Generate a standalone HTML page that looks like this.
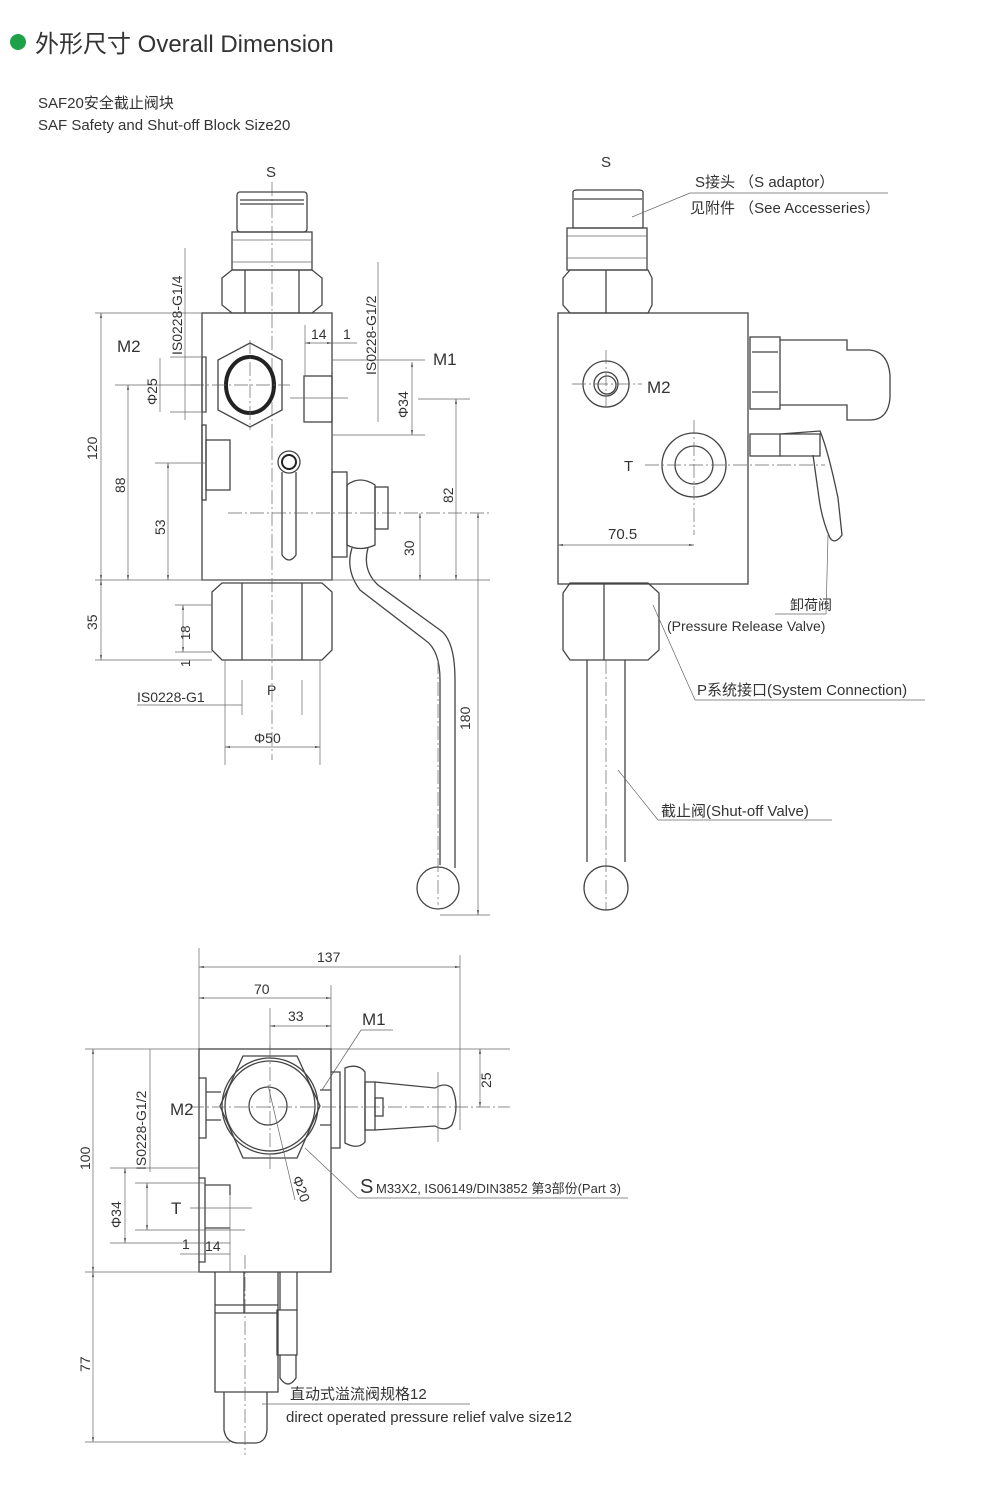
<!DOCTYPE html>
<html><head><meta charset="utf-8"><style>
body{margin:0;background:#fff;}
svg{display:block}
text{font-family:"Liberation Sans","Noto Sans CJK SC",sans-serif;fill:#333}
.l{stroke:#444;stroke-width:1.3;fill:none}
.t{stroke:#666;stroke-width:0.7;fill:none}
.c{stroke:#666;stroke-width:0.7;fill:none;stroke-dasharray:14 3 2 3}
</style></head><body>
<svg width="1000" height="1500" viewBox="0 0 1000 1500" xmlns="http://www.w3.org/2000/svg">
<defs><marker id="a" viewBox="0 0 10 10" refX="10" refY="5" markerWidth="7" markerHeight="7" orient="auto-start-reverse"><path d="M0,3 L10,5 L0,7z" fill="#444"/></marker></defs>
<circle cx="18" cy="42" r="8" fill="#1fa14a"/>
<text x="35" y="52" font-size="24" fill="#333">外形尺寸 Overall Dimension</text>
<text x="38" y="108" font-size="15">SAF20安全截止阀块</text>
<text x="38" y="130" font-size="15">SAF Safety and Shut-off Block Size20</text>

<!-- FRONT VIEW -->
<text x="266" y="177" font-size="15">S</text>
<line class="c" x1="272" y1="182" x2="272" y2="760"/>
<rect class="l" x="237" y="192" width="70" height="40" rx="3"/>
<line class="l" x1="240" y1="200" x2="304" y2="200"/><line class="l" x1="240" y1="204" x2="304" y2="204"/>
<rect class="l" x="232" y="232" width="80" height="38"/>
<line class="t" x1="232" y1="240" x2="312" y2="240"/><line class="t" x1="232" y1="262" x2="312" y2="262"/>
<path class="l" d="M222,278 L232,270 L312,270 L322,278 L322,305 L312,313 L232,313 L222,305Z M245,270 L245,313 M299,270 L299,313"/>
<rect class="l" x="202" y="313" width="130" height="267"/>
<path class="l" d="M250,343 L282,360 L282,410 L250,427 L218,410 L218,360Z"/>
<ellipse cx="250" cy="385" rx="24" ry="28" fill="none" stroke="#222" stroke-width="4"/>
<line class="c" x1="190" y1="385" x2="290" y2="385"/>
<line class="c" x1="250" y1="340" x2="250" y2="430"/>
<rect class="l" x="202" y="357" width="4" height="55"/>
<rect class="l" x="304" y="376" width="28" height="46"/>
<line class="t" x1="290" y1="398" x2="348" y2="398"/>
<rect class="l" x="202" y="425" width="4" height="75"/>
<rect class="l" x="206" y="440" width="24" height="50"/>
<circle class="l" cx="289" cy="462" r="11"/><circle cx="289" cy="462" r="7" fill="none" stroke="#222" stroke-width="2"/>
<path class="l" d="M282,472 L282,555 Q289,565 296,555 L296,472"/>
<line class="c" x1="228" y1="513" x2="490" y2="513"/>
<rect class="l" x="332" y="472" width="15" height="85"/>
<path class="l" d="M347,485 Q360,475 375,485 L375,545 Q360,552 347,545Z"/>
<rect class="l" x="375" y="487" width="13" height="42"/>
<path class="l" d="M352,548 Q345,570 360,590 L425,640 Q440,650 440,680 L440,865 M368,548 Q362,570 378,585 L440,630 Q455,640 455,680 L455,868"/>
<circle class="l" cx="438" cy="888" r="21"/>
<line class="c" x1="438" y1="660" x2="438" y2="905"/>
<path class="l" d="M212,592 L222,583 L322,583 L332,592 L332,650 L322,660 L222,660 L212,650Z M242,583 L242,660 M302,583 L302,660"/>
<line class="t" x1="225" y1="660" x2="225" y2="765"/><line class="t" x1="320" y1="660" x2="320" y2="765"/>
<line class="t" x1="242" y1="680" x2="242" y2="715"/><line class="t" x1="302" y1="680" x2="302" y2="715"/>
<line class="t" x1="225" y1="747" x2="320" y2="747" marker-start="url(#a)" marker-end="url(#a)"/>
<text x="254" y="743" font-size="14">Φ50</text>
<text x="137" y="702" font-size="14">IS0228-G1</text><line class="t" x1="137" y1="705" x2="242" y2="705"/>
<text x="267" y="695" font-size="14">P</text>
<!-- left dims -->
<line class="t" x1="95" y1="313" x2="202" y2="313"/><line class="t" x1="95" y1="580" x2="490" y2="580"/>
<line class="t" x1="101" y1="313" x2="101" y2="580" marker-start="url(#a)" marker-end="url(#a)"/>
<line class="t" x1="101" y1="580" x2="101" y2="660" marker-start="url(#a)" marker-end="url(#a)"/>
<line class="t" x1="95" y1="660" x2="212" y2="660"/>
<text transform="translate(97,460) rotate(-90)" font-size="14">120</text>
<text transform="translate(97,630) rotate(-90)" font-size="14">35</text>
<line class="t" x1="115" y1="385" x2="200" y2="385"/>
<line class="t" x1="128" y1="385" x2="128" y2="580" marker-start="url(#a)" marker-end="url(#a)"/>
<text transform="translate(125,493) rotate(-90)" font-size="14">88</text>
<line class="t" x1="155" y1="463" x2="205" y2="463"/>
<line class="t" x1="168" y1="463" x2="168" y2="580" marker-start="url(#a)" marker-end="url(#a)"/>
<text transform="translate(165,535) rotate(-90)" font-size="14">53</text>
<line class="t" x1="170" y1="357" x2="206" y2="357"/><line class="t" x1="170" y1="412" x2="206" y2="412"/>
<line class="t" x1="160" y1="358" x2="160" y2="412"/>
<text transform="translate(157,405) rotate(-90)" font-size="14">Φ25</text>
<text x="117" y="352" font-size="17">M2</text>
<line class="t" x1="185" y1="248" x2="185" y2="420"/>
<text transform="translate(182,355) rotate(-90)" font-size="14">IS0228-G1/4</text>
<line class="t" x1="175" y1="605" x2="212" y2="605"/><line class="t" x1="175" y1="652" x2="212" y2="652"/>
<line class="t" x1="183" y1="605" x2="183" y2="652" marker-start="url(#a)" marker-end="url(#a)"/>
<text transform="translate(190,640) rotate(-90)" font-size="13">18</text>
<text transform="translate(190,667) rotate(-90)" font-size="13">1</text>
<!-- right dims -->
<line class="t" x1="305" y1="325" x2="305" y2="376"/>
<line class="t" x1="305" y1="343" x2="332" y2="343" marker-start="url(#a)" marker-end="url(#a)"/>
<line class="t" x1="332" y1="343" x2="357" y2="343"/>
<text x="311" y="339" font-size="14">14</text><text x="343" y="339" font-size="14">1</text>
<line class="t" x1="332" y1="360" x2="425" y2="360"/>
<text x="433" y="365" font-size="17">M1</text>
<line class="t" x1="378" y1="262" x2="378" y2="422"/>
<text transform="translate(376,375) rotate(-90)" font-size="14">IS0228-G1/2</text>
<line class="t" x1="332" y1="435" x2="425" y2="435"/>
<line class="t" x1="412" y1="362" x2="412" y2="435" marker-start="url(#a)" marker-end="url(#a)"/>
<text transform="translate(408,418) rotate(-90)" font-size="14">Φ34</text>
<line class="t" x1="418" y1="399" x2="470" y2="399"/>
<line class="t" x1="456" y1="399" x2="456" y2="580" marker-start="url(#a)" marker-end="url(#a)"/>
<text transform="translate(453,503) rotate(-90)" font-size="14">82</text>
<line class="t" x1="420" y1="513" x2="420" y2="580" marker-start="url(#a)" marker-end="url(#a)"/>
<text transform="translate(414,556) rotate(-90)" font-size="14">30</text>
<line class="t" x1="478" y1="513" x2="478" y2="915" marker-start="url(#a)" marker-end="url(#a)"/>
<line class="t" x1="440" y1="915" x2="490" y2="915"/>
<text transform="translate(470,730) rotate(-90)" font-size="14">180</text>

<!-- SIDE VIEW -->
<text x="601" y="167" font-size="15">S</text>
<path class="l" d="M573,192 Q573,190 578,190 L638,190 Q643,190 643,192 L643,228 L573,228Z"/>
<line class="l" x1="574" y1="199" x2="642" y2="199"/>
<rect class="l" x="567" y="228" width="80" height="42"/>
<line class="t" x1="567" y1="236" x2="647" y2="236"/><line class="t" x1="567" y1="258" x2="647" y2="258"/>
<path class="l" d="M563,278 L570,270 L648,270 L652,278 L652,305 L648,313 L570,313 L563,305Z M606,270 L606,313"/>
<rect class="l" x="558" y="313" width="190" height="271"/>
<circle class="l" cx="606" cy="384" r="23"/><circle class="l" cx="606" cy="384" r="12"/><circle class="l" cx="607" cy="385" r="9"/>
<line class="c" x1="572" y1="384" x2="642" y2="384"/><line class="c" x1="606" y1="350" x2="606" y2="410"/>
<text x="647" y="393" font-size="17">M2</text>
<circle class="l" cx="694" cy="465" r="32"/><circle class="l" cx="694" cy="465" r="19"/>
<line class="c" x1="645" y1="465" x2="825" y2="465"/><line class="c" x1="694" y1="420" x2="694" y2="535"/>
<text x="624" y="471" font-size="15">T</text>
<line class="t" x1="558" y1="545" x2="694" y2="545" marker-start="url(#a)" marker-end="url(#a)"/>
<text x="608" y="539" font-size="15">70.5</text>
<rect class="l" x="750" y="337" width="30" height="72"/>
<path class="l" d="M752,352 L778,352 M752,392 L778,392 M780,340 L847,340 L847,350 L870,350 Q888,352 890,375 L890,398 Q888,420 870,420 L847,420 L847,405 L780,405"/>
<rect class="l" x="750" y="434" width="30" height="22" fill="none"/>
<path class="l" d="M780,434 L820,434 L820,456 L780,456 M780,434 L820,431 Q828,450 838,498 L842,535 Q835,545 830,538 Q822,520 819,498 L813,455"/>
<path class="l" d="M563,593 L570,583 L648,583 L659,593 L659,650 L648,660 L570,660 L563,650Z M604,583 L604,660"/>
<path class="l" d="M587,660 L587,862 M625,660 L625,862"/>
<line class="c" x1="606" y1="660" x2="606" y2="910"/>
<circle class="l" cx="606" cy="888" r="22"/>
<!-- labels right -->
<text x="695" y="187" font-size="15">S接头 （S adaptor）</text>
<line class="t" x1="690" y1="193" x2="888" y2="193"/>
<line class="t" x1="690" y1="193" x2="632" y2="217"/>
<text x="690" y="213" font-size="15">见附件 （See Accesseries）</text>
<text x="790" y="610" font-size="14">卸荷阀</text>
<line class="t" x1="775" y1="614" x2="826" y2="614"/>
<line class="t" x1="826" y1="614" x2="828" y2="535"/>
<text x="667" y="631" font-size="14">(Pressure Release Valve)</text>
<text x="697" y="695" font-size="15">P系统接口(System Connection)</text>
<line class="t" x1="695" y1="700" x2="925" y2="700"/><line class="t" x1="695" y1="700" x2="653" y2="605"/>
<text x="661" y="816" font-size="15">截止阀(Shut-off Valve)</text>
<line class="t" x1="658" y1="820" x2="832" y2="820"/><line class="t" x1="658" y1="820" x2="618" y2="770"/>

<!-- BOTTOM VIEW -->
<line class="t" x1="199" y1="948" x2="199" y2="1050"/><line class="t" x1="460" y1="955" x2="460" y2="1130"/>
<line class="t" x1="199" y1="967" x2="460" y2="967" marker-start="url(#a)" marker-end="url(#a)"/>
<text x="317" y="962" font-size="14">137</text>
<line class="t" x1="331" y1="985" x2="331" y2="1050"/>
<line class="t" x1="199" y1="998" x2="331" y2="998" marker-start="url(#a)" marker-end="url(#a)"/>
<text x="254" y="994" font-size="14">70</text>
<line class="t" x1="270" y1="1008" x2="270" y2="1050"/>
<line class="t" x1="270" y1="1026" x2="331" y2="1026" marker-start="url(#a)" marker-end="url(#a)"/>
<text x="288" y="1021" font-size="14">33</text>
<text x="362" y="1025" font-size="17">M1</text>
<line class="t" x1="361" y1="1030" x2="393" y2="1030"/><line class="t" x1="361" y1="1030" x2="322" y2="1090"/>
<line class="t" x1="85" y1="1049" x2="510" y2="1049"/>
<rect class="l" x="199" y="1049" width="132" height="223"/>
<path class="l" d="M243,1056 L297,1056 L320,1106 L297,1158 L243,1158 L220,1106Z"/>
<circle class="l" cx="270" cy="1106" r="48"/><circle class="l" cx="270" cy="1106" r="45"/>
<circle class="l" cx="268" cy="1106" r="19"/>
<line class="c" x1="190" y1="1107" x2="510" y2="1107"/><line class="c" x1="270" y1="1045" x2="270" y2="1170"/>
<line class="t" x1="268" y1="1085" x2="295" y2="1200"/>
<text transform="translate(292,1178) rotate(70)" font-size="14">Φ20</text>
<path class="l" d="M199,1078 L206,1078 L206,1138 L199,1138 M206,1092 L221,1092 M206,1120 L221,1120"/>
<path class="l" d="M331,1072 L340,1072 L340,1148 L331,1148 M320,1090 L331,1090 M320,1125 L331,1125"/>
<path class="l" d="M345,1068 Q358,1063 365,1072 L365,1142 Q358,1150 345,1143Z"/>
<rect class="l" x="365" y="1082" width="10" height="48"/><rect class="l" x="375" y="1098" width="8" height="18"/>
<path class="l" d="M375,1082 L435,1088 Q445,1082 452,1088 Q460,1106 452,1125 Q445,1132 435,1126 L375,1130"/>
<line class="t" x1="438" y1="1072" x2="438" y2="1142"/>
<line class="t" x1="480" y1="1049" x2="480" y2="1107" marker-start="url(#a)" marker-end="url(#a)"/>
<text transform="translate(491,1088) rotate(-90)" font-size="14">25</text>
<text x="170" y="1115" font-size="17">M2</text>
<line class="t" x1="150" y1="1049" x2="150" y2="1172"/>
<text transform="translate(146,1170) rotate(-90)" font-size="14">IS0228-G1/2</text>
<path class="l" d="M199,1178 L205,1178 L205,1262 L199,1262 M205,1185 L230,1185 L230,1195 M205,1228 L230,1228"/>
<line class="t" x1="110" y1="1168" x2="199" y2="1168"/><line class="t" x1="110" y1="1243" x2="230" y2="1243"/>
<line class="t" x1="125" y1="1168" x2="125" y2="1243" marker-start="url(#a)" marker-end="url(#a)"/>
<text transform="translate(121,1228) rotate(-90)" font-size="14">Φ34</text>
<line class="t" x1="135" y1="1183" x2="205" y2="1183"/><line class="t" x1="135" y1="1230" x2="245" y2="1230"/>
<line class="t" x1="147" y1="1183" x2="147" y2="1230" marker-start="url(#a)" marker-end="url(#a)"/>
<text x="171" y="1214" font-size="17">T</text>
<line class="t" x1="190" y1="1208" x2="252" y2="1208"/>
<line class="t" x1="180" y1="1254" x2="230" y2="1254"/>
<text x="182" y="1249" font-size="14">1</text><text x="205" y="1251" font-size="14">14</text>
<line class="t" x1="230" y1="1195" x2="230" y2="1272"/>
<line class="t" x1="85" y1="1272" x2="200" y2="1272"/>
<line class="t" x1="93" y1="1049" x2="93" y2="1272" marker-start="url(#a)" marker-end="url(#a)"/>
<text transform="translate(90,1170) rotate(-90)" font-size="14">100</text>
<line class="t" x1="93" y1="1272" x2="93" y2="1442" marker-start="url(#a)" marker-end="url(#a)"/>
<line class="t" x1="85" y1="1442" x2="230" y2="1442"/>
<text transform="translate(90,1372) rotate(-90)" font-size="14">77</text>
<path class="l" d="M215,1272 L215,1392 L278,1392 L278,1272 M215,1305 L278,1305 M215,1313 L278,1313 M244,1272 L244,1313"/>
<path class="l" d="M224,1392 L224,1430 Q226,1442 237,1443 L256,1443 Q266,1442 267,1430 L267,1392"/>
<line class="c" x1="245" y1="1255" x2="245" y2="1455"/>
<path class="l" d="M280,1272 L280,1310 L297,1310 L297,1272 M277,1310 L297,1310 L297,1355 L277,1355 Z M280,1355 L280,1378 Q288,1390 296,1378 L296,1355"/>
<text x="360" y="1193" font-size="20">S</text>
<text x="376" y="1193" font-size="13">M33X2,  IS06149/DIN3852  第3部份(Part 3)</text>
<line class="t" x1="358" y1="1198" x2="628" y2="1198"/><line class="t" x1="358" y1="1198" x2="305" y2="1148"/>
<text x="290" y="1399" font-size="15">直动式溢流阀规格12</text>
<line class="t" x1="262" y1="1404" x2="470" y2="1404"/>
<text x="286" y="1422" font-size="15">direct operated pressure relief valve size12</text>
</svg>
</body></html>
